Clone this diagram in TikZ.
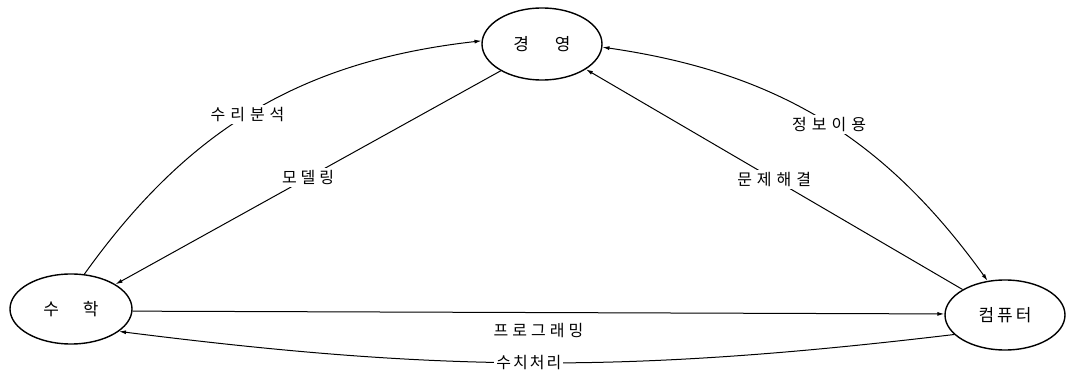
\documentclass[tikz,border=0pt]{standalone}
\usepackage{fontspec}
\setmainfont{Noto Sans CJK KR}
\usetikzlibrary{shapes.geometric,arrows.meta}
\begin{document}
\begin{tikzpicture}[x=1pt,y=1pt,
  region/.style={draw, ellipse, line width=1.4pt, inner sep=0pt,
    minimum width=120pt, minimum height=70pt, font=\fontsize{17}{20}\selectfont},
  lbl/.style={fill=white, inner sep=2pt, font=\fontsize{16}{19}\selectfont},
  link/.style={line width=1pt},
  tip/.style={-{Latex[length=7pt,width=4pt]}},
  bitip/.style={{Latex[length=7pt,width=4pt]}-{Latex[length=7pt,width=4pt]}}]
\useasboundingbox (0,0) rectangle (1066,383);
\node[region, minimum width=120pt, minimum height=72pt] (gy) at (542,339) {경\hspace{26pt}영};
\node[region, minimum width=122pt] (sh) at (71,74) {수\hspace{24pt}학};
\node[region] (cp) at (1005,68) {컴\hspace{3pt}퓨\hspace{3pt}터};

\draw[link,tip] (sh.69) to[bend left=24]
  node[lbl,pos=0.48] (l1) {수\hspace{5pt}리\hspace{5pt}분\hspace{5pt}석} (gy.177);
\draw[link,tip] (gy.213) --
  node[lbl,pos=0.5] (l2) {모\hspace{4pt}델\hspace{4pt}링} (sh.29);
\draw[link,bitip] (gy.357) to[bend left=23]
  node[lbl,pos=0.52] (l3) {정\hspace{5pt}보\hspace{5pt}이\hspace{5pt}용} (cp.117);
\draw[link,tip] (cp.149) --
  node[lbl,pos=0.5] (l4) {문\hspace{5pt}제\hspace{5pt}해\hspace{5pt}결} (gy.330);
\draw[link,tip] (sh.358) --
  node[lbl,fill=none,below=8pt,pos=0.5] (l5) {프\hspace{4pt}로\hspace{4pt}그\hspace{4pt}래\hspace{4pt}밍} (cp.179);
\draw[link,tip] (cp.201) to[bend left=7]
  node[lbl,pos=0.51] (l6) {수\hspace{2pt}치\hspace{2pt}처\hspace{2pt}리} (sh.335);
\end{tikzpicture}
\end{document}
